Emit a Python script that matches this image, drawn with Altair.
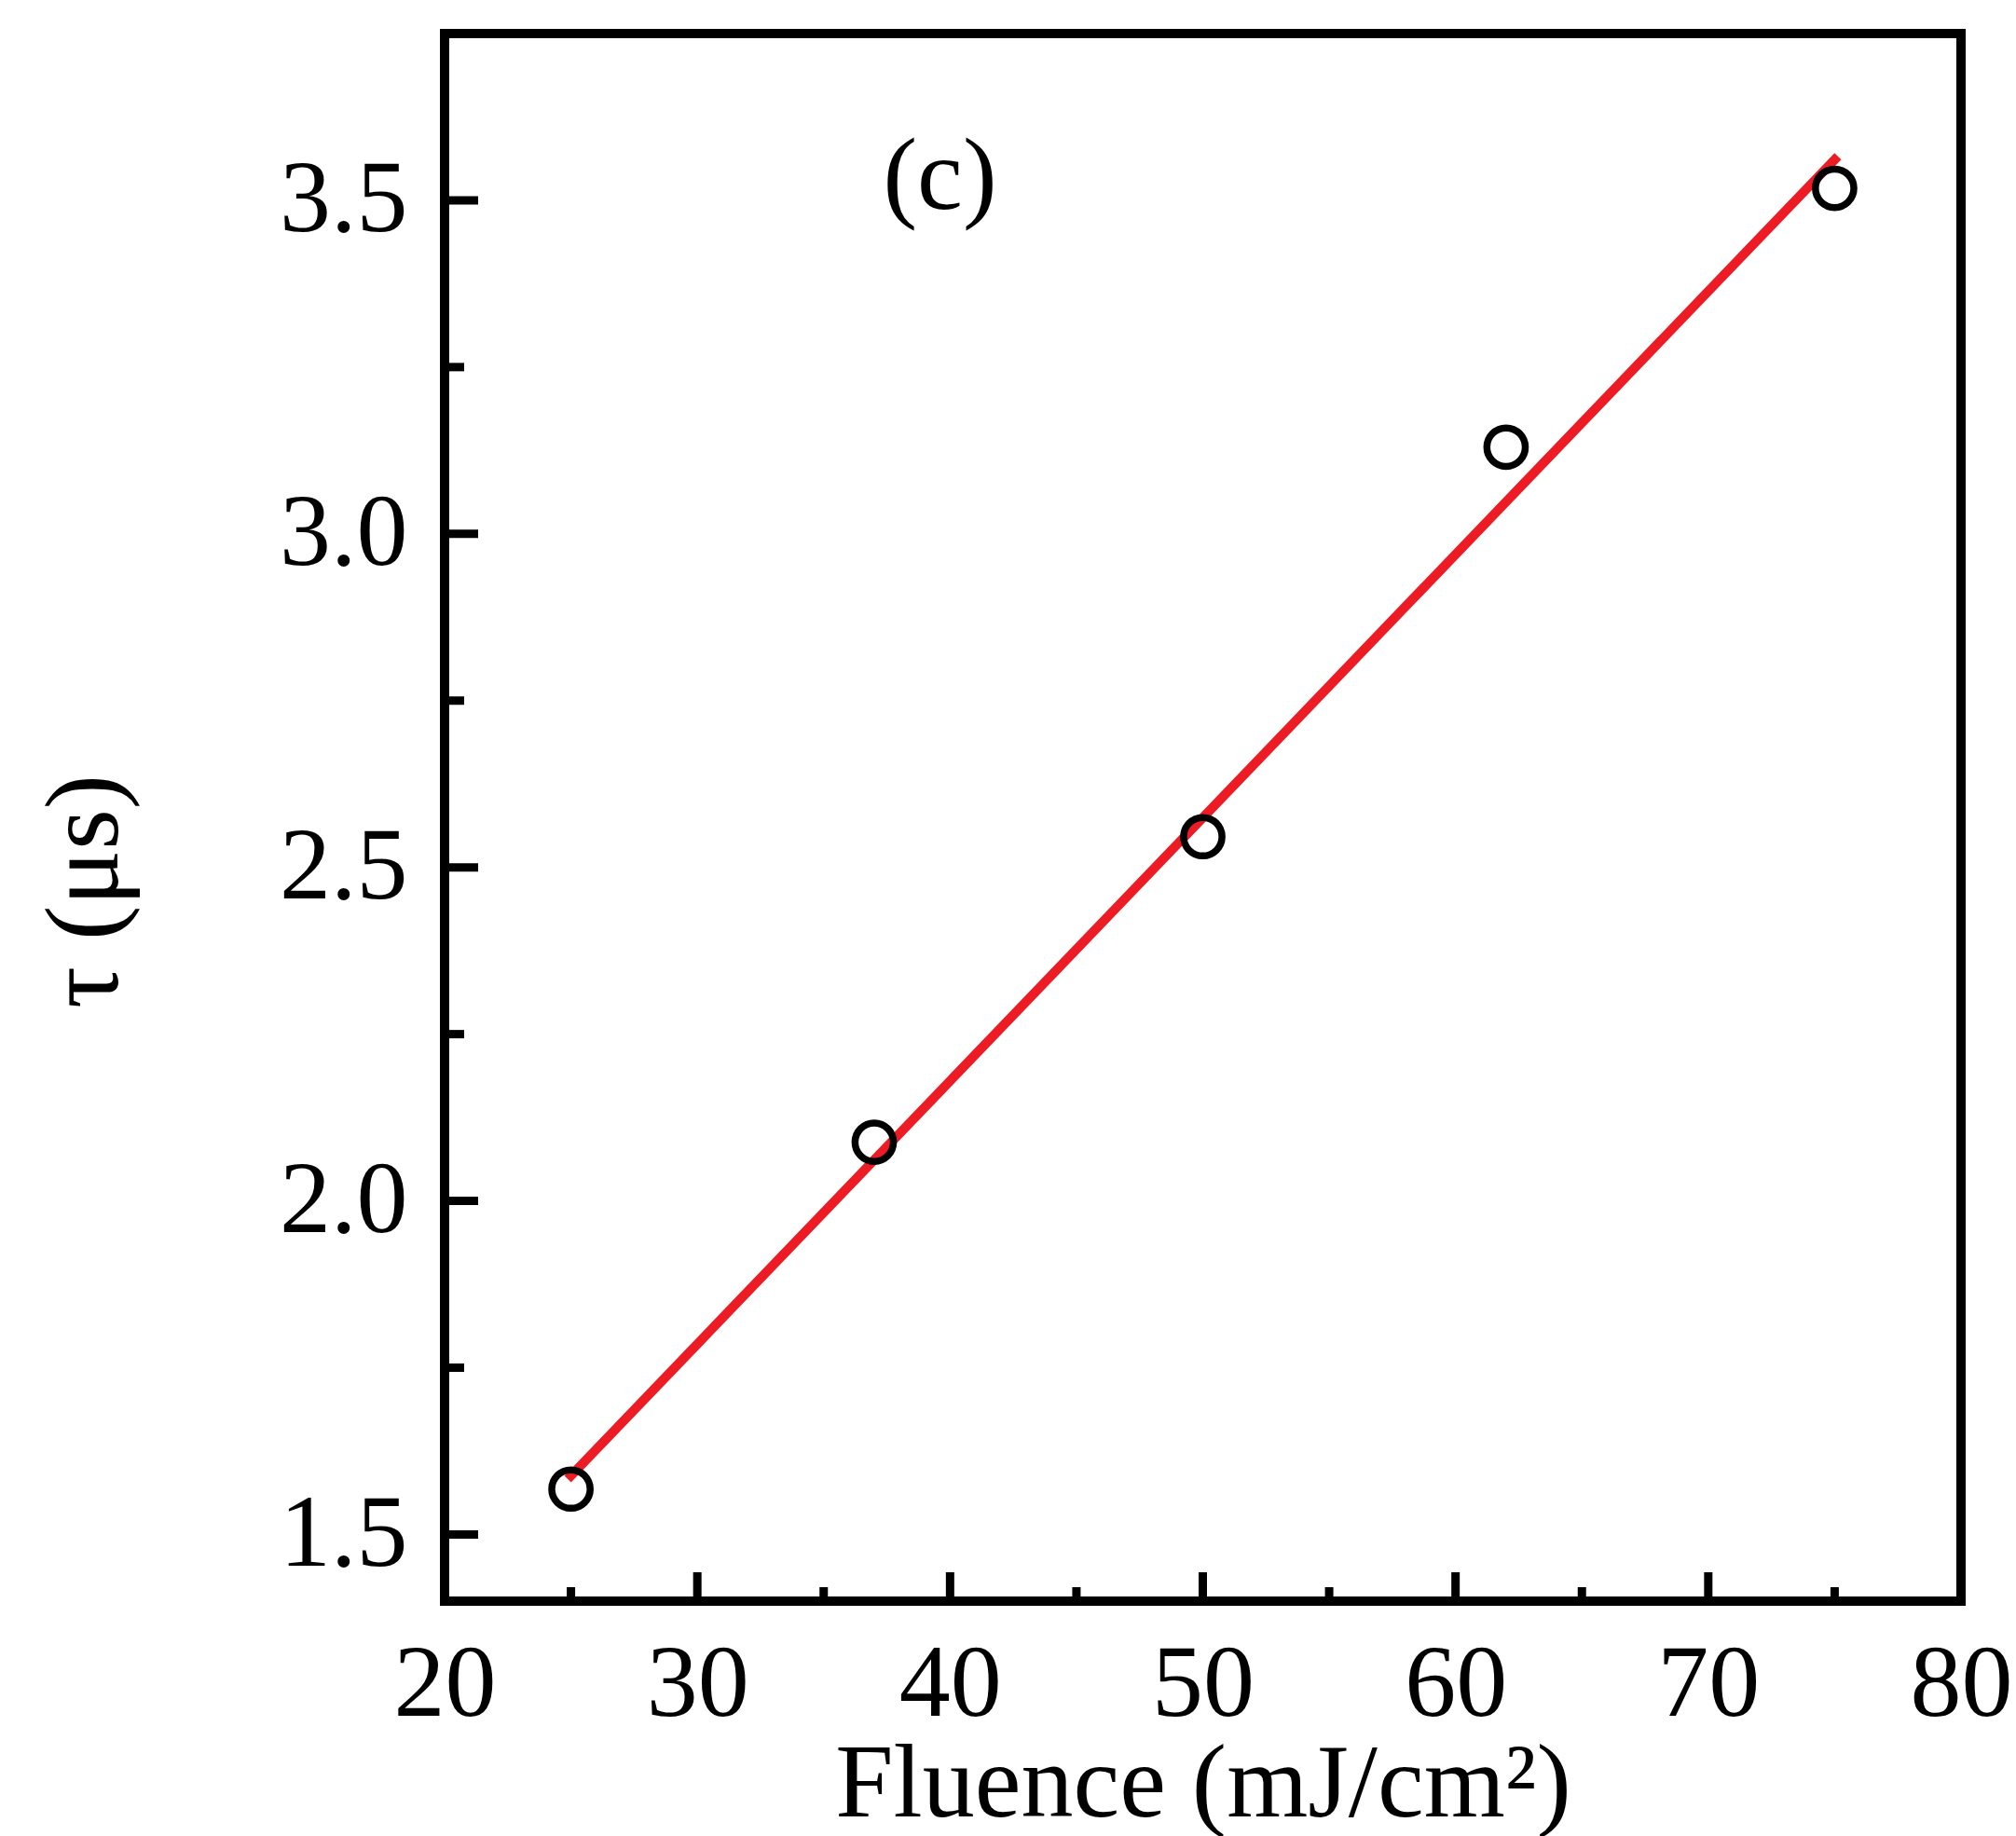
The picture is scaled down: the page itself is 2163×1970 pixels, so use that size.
import altair as alt
import pandas as pd

# data
fluence = [25, 37, 50, 62, 75]
tau = [1.568, 2.088, 2.546, 3.13, 3.518]
fit_x = [25, 75]
fit_y = [1.588, 3.561]
x_major = [20, 30, 40, 50, 60, 70, 80]
x_minor = [25, 35, 45, 55, 65, 75]
y_major = [1.5, 2.0, 2.5, 3.0, 3.5]
y_minor = [1.75, 2.25, 2.75, 3.25]
panel_label = ["(c)"]
panel_x = [39.6]
panel_y = [3.487]

W, H = 1627, 1682
FONT = "Liberation Serif"

pts = pd.DataFrame({"x": fluence, "y": tau})
fit = pd.DataFrame({"x": fit_x, "y": fit_y})
xmaj = pd.DataFrame({"x": x_major})
xmin = pd.DataFrame({"x": x_minor})
ymaj = pd.DataFrame({"y": y_major})
ymin = pd.DataFrame({"y": y_minor})
lab = pd.DataFrame({"t": panel_label, "x": panel_x, "y": panel_y})

xs = alt.Scale(domain=[20, 80], nice=False, zero=False)
ys = alt.Scale(domain=[1.4, 3.75], nice=False, zero=False)

x_axis = alt.Axis(values=x_major, ticks=False, domain=False, grid=False,
                  labelFont=FONT, labelFontSize=110, labelColor="black",
                  labelPadding=35, labelFlush=False,
                  title="Fluence (mJ/cm²)", titleFont=FONT, titleFontSize=112,
                  titleFontWeight="normal", titleColor="black",
                  titleBaseline="alphabetic", titleY=230)
y_axis = alt.Axis(values=y_major, format=".1f", ticks=False, domain=False, grid=False,
                  labelFont=FONT, labelFontSize=110, labelColor="black",
                  labelPadding=40, labelFlush=False,
                  title="τ (μs)", titleFont=FONT, titleFontSize=112,
                  titleFontWeight="normal", titleColor="black",
                  titleAngle=270, titleAlign="center", titleBaseline="alphabetic",
                  titleX=-352, titleY=920)

X = alt.X("x:Q", scale=xs, axis=x_axis)
Y = alt.Y("y:Q", scale=ys, axis=y_axis)

line = alt.Chart(fit).mark_line(color="#ed1c24", strokeWidth=10, strokeCap="square").encode(x=X, y=Y)
points = alt.Chart(pts).mark_point(shape="circle", size=1700, filled=False,
                                   color="black", strokeWidth=7.5, opacity=1).encode(x=X, y=Y)

ymaj_t = alt.Chart(ymaj).mark_rule(color="black", strokeWidth=9).encode(
    y=alt.Y("y:Q", scale=ys, axis=y_axis), x=alt.value(0), x2=alt.value(36))
ymin_t = alt.Chart(ymin).mark_rule(color="black", strokeWidth=9).encode(
    y=alt.Y("y:Q", scale=ys, axis=y_axis), x=alt.value(0), x2=alt.value(21))
xmaj_t = alt.Chart(xmaj).mark_rule(color="black", strokeWidth=9).encode(
    x=alt.X("x:Q", scale=xs, axis=x_axis), y=alt.value(H), y2=alt.value(H - 31))
xmin_t = alt.Chart(xmin).mark_rule(color="black", strokeWidth=9).encode(
    x=alt.X("x:Q", scale=xs, axis=x_axis), y=alt.value(H), y2=alt.value(H - 15))

text = alt.Chart(lab).mark_text(font=FONT, fontSize=110, color="black",
                                align="center", baseline="alphabetic").encode(
    x=X, y=Y, text="t:N")

chart = alt.layer(ymaj_t, ymin_t, xmaj_t, xmin_t, line, points, text).properties(
    width=W, height=H,
    autosize="none",
    padding={"left": 477, "top": 36, "right": 59, "bottom": 252},
    background="white",
).configure_view(stroke="black", strokeWidth=10)

chart.save("out.html", embed_options={"renderer": "svg", "actions": False})
